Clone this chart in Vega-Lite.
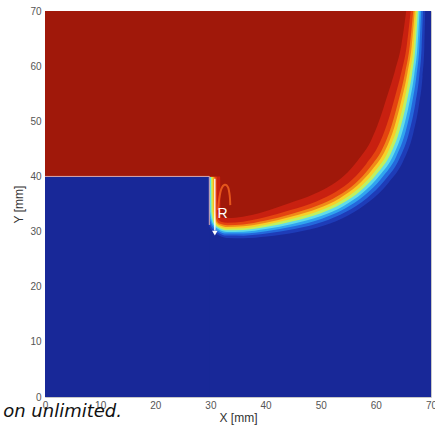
{
  "$schema": "https://vega.github.io/schema/vega-lite/v6.json",
  "width": 386,
  "height": 386,
  "autosize": {"type": "none"},
  "padding": {"left": 45, "top": 11, "right": 4, "bottom": 28},
  "background": "white",
  "config": {"view": {"stroke": "#c8c8c8", "strokeWidth": 1}},
  "datasets": {
    "ct": [
      {"c":1,"x":0,"y":40},{"c":1,"x":29.05,"y":40},{"c":1,"x":29.15,"y":33.5},{"c":1,"x":29.94,"y":30.64},{"c":1,"x":31.19,"y":29.5},{"c":1,"x":32.94,"y":28.85},{"c":1,"x":36.07,"y":28.8},{"c":1,"x":40.23,"y":29.12},{"c":1,"x":45.36,"y":29.84},{"c":1,"x":50.6,"y":31.1},{"c":1,"x":54.95,"y":32.93},{"c":1,"x":58.82,"y":35.44},{"c":1,"x":62.23,"y":38.78},{"c":1,"x":64.96,"y":42.78},{"c":1,"x":66.75,"y":47.69},{"c":1,"x":67.82,"y":52.96},{"c":1,"x":68.47,"y":58.16},{"c":1,"x":68.79,"y":63.33},{"c":1,"x":68.95,"y":70},
      {"c":2,"x":0,"y":40},{"c":2,"x":29.37,"y":40},{"c":2,"x":29.47,"y":33.5},{"c":2,"x":30.17,"y":30.87},{"c":2,"x":31.3,"y":29.85},{"c":2,"x":32.96,"y":29.27},{"c":2,"x":36.04,"y":29.26},{"c":2,"x":40.15,"y":29.63},{"c":2,"x":45.23,"y":30.45},{"c":2,"x":50.39,"y":31.77},{"c":2,"x":54.61,"y":33.59},{"c":2,"x":58.36,"y":36.06},{"c":2,"x":61.62,"y":39.31},{"c":2,"x":64.27,"y":43.21},{"c":2,"x":66.03,"y":47.97},{"c":2,"x":67.15,"y":53.15},{"c":2,"x":67.88,"y":58.28},{"c":2,"x":68.3,"y":63.39},{"c":2,"x":68.55,"y":70},
      {"c":3,"x":0,"y":40},{"c":3,"x":29.64,"y":40},{"c":3,"x":29.74,"y":33.5},{"c":3,"x":30.37,"y":31.07},{"c":3,"x":31.39,"y":30.15},{"c":3,"x":32.98,"y":29.63},{"c":3,"x":36.02,"y":29.65},{"c":3,"x":40.08,"y":30.08},{"c":3,"x":45.13,"y":30.98},{"c":3,"x":50.21,"y":32.34},{"c":3,"x":54.33,"y":34.15},{"c":3,"x":57.96,"y":36.58},{"c":3,"x":61.1,"y":39.77},{"c":3,"x":63.68,"y":43.57},{"c":3,"x":65.42,"y":48.22},{"c":3,"x":66.57,"y":53.31},{"c":3,"x":67.38,"y":58.38},{"c":3,"x":67.89,"y":63.44},{"c":3,"x":68.2,"y":70},
      {"c":4,"x":0,"y":40},{"c":4,"x":29.86,"y":40},{"c":4,"x":29.96,"y":33.5},{"c":4,"x":30.53,"y":31.23},{"c":4,"x":31.47,"y":30.4},{"c":4,"x":32.99,"y":29.93},{"c":4,"x":36.01,"y":29.97},{"c":4,"x":40.02,"y":30.45},{"c":4,"x":45.04,"y":31.42},{"c":4,"x":50.06,"y":32.81},{"c":4,"x":54.09,"y":34.61},{"c":4,"x":57.63,"y":37.02},{"c":4,"x":60.67,"y":40.15},{"c":4,"x":63.2,"y":43.88},{"c":4,"x":64.9,"y":48.42},{"c":4,"x":66.09,"y":53.45},{"c":4,"x":66.97,"y":58.47},{"c":4,"x":67.54,"y":63.48},{"c":4,"x":67.92,"y":70},
      {"c":5,"x":0,"y":40},{"c":5,"x":30.09,"y":40},{"c":5,"x":30.19,"y":33.5},{"c":5,"x":30.7,"y":31.4},{"c":5,"x":31.55,"y":30.65},{"c":5,"x":33.01,"y":30.23},{"c":5,"x":35.99,"y":30.3},{"c":5,"x":39.97,"y":30.82},{"c":5,"x":44.95,"y":31.87},{"c":5,"x":49.91,"y":33.29},{"c":5,"x":53.86,"y":35.08},{"c":5,"x":57.3,"y":37.46},{"c":5,"x":60.24,"y":40.53},{"c":5,"x":62.71,"y":44.18},{"c":5,"x":64.39,"y":48.62},{"c":5,"x":65.61,"y":53.58},{"c":5,"x":66.55,"y":58.55},{"c":5,"x":67.19,"y":63.53},{"c":5,"x":67.63,"y":70},
      {"c":6,"x":0,"y":40},{"c":6,"x":30.31,"y":40},{"c":6,"x":30.41,"y":33.5},{"c":6,"x":30.87,"y":31.57},{"c":6,"x":31.63,"y":30.9},{"c":6,"x":33.02,"y":30.53},{"c":6,"x":35.97,"y":30.62},{"c":6,"x":39.91,"y":31.19},{"c":6,"x":44.86,"y":32.31},{"c":6,"x":49.76,"y":33.76},{"c":6,"x":53.62,"y":35.55},{"c":6,"x":56.97,"y":37.9},{"c":6,"x":59.81,"y":40.91},{"c":6,"x":62.22,"y":44.49},{"c":6,"x":63.88,"y":48.83},{"c":6,"x":65.13,"y":53.72},{"c":6,"x":66.13,"y":58.64},{"c":6,"x":66.85,"y":63.57},{"c":6,"x":67.34,"y":70},
      {"c":7,"x":0,"y":40},{"c":7,"x":30.54,"y":40},{"c":7,"x":30.64,"y":33.5},{"c":7,"x":31.03,"y":31.73},{"c":7,"x":31.71,"y":31.15},{"c":7,"x":33.04,"y":30.83},{"c":7,"x":35.96,"y":30.95},{"c":7,"x":39.85,"y":31.57},{"c":7,"x":44.77,"y":32.75},{"c":7,"x":49.61,"y":34.24},{"c":7,"x":53.39,"y":36.02},{"c":7,"x":56.64,"y":38.34},{"c":7,"x":59.38,"y":41.29},{"c":7,"x":61.73,"y":44.79},{"c":7,"x":63.37,"y":49.03},{"c":7,"x":64.65,"y":53.85},{"c":7,"x":65.72,"y":58.72},{"c":7,"x":66.5,"y":63.61},{"c":7,"x":67.05,"y":70},
      {"c":8,"x":0,"y":40},{"c":8,"x":30.76,"y":40},{"c":8,"x":30.86,"y":33.5},{"c":8,"x":31.2,"y":31.9},{"c":8,"x":31.78,"y":31.4},{"c":8,"x":33.05,"y":31.13},{"c":8,"x":35.94,"y":31.27},{"c":8,"x":39.8,"y":31.94},{"c":8,"x":44.68,"y":33.19},{"c":8,"x":49.46,"y":34.71},{"c":8,"x":53.15,"y":36.48},{"c":8,"x":56.31,"y":38.78},{"c":8,"x":58.95,"y":41.67},{"c":8,"x":61.24,"y":45.1},{"c":8,"x":62.86,"y":49.23},{"c":8,"x":64.17,"y":53.99},{"c":8,"x":65.3,"y":58.81},{"c":8,"x":66.15,"y":63.65},{"c":8,"x":66.77,"y":70},
      {"c":9,"x":0,"y":40},{"c":9,"x":31.12,"y":40},{"c":9,"x":31.22,"y":33.5},{"c":9,"x":31.47,"y":32.17},{"c":9,"x":31.91,"y":31.8},{"c":9,"x":33.08,"y":31.61},{"c":9,"x":35.92,"y":31.79},{"c":9,"x":39.71,"y":32.53},{"c":9,"x":44.53,"y":33.89},{"c":9,"x":49.22,"y":35.47},{"c":9,"x":52.77,"y":37.23},{"c":9,"x":55.78,"y":39.49},{"c":9,"x":58.26,"y":42.27},{"c":9,"x":60.46,"y":45.59},{"c":9,"x":62.04,"y":49.56},{"c":9,"x":63.4,"y":54.2},{"c":9,"x":64.63,"y":58.94},{"c":9,"x":65.6,"y":63.72},{"c":9,"x":66.31,"y":70},
      {"c":10,"x":0,"y":40},{"c":10,"x":31.75,"y":40},{"c":10,"x":31.85,"y":33.5},{"c":10,"x":31.93,"y":32.63},{"c":10,"x":32.13,"y":32.5},{"c":10,"x":33.12,"y":32.45},{"c":10,"x":35.87,"y":32.7},{"c":10,"x":39.55,"y":33.57},{"c":10,"x":44.28,"y":35.13},{"c":10,"x":48.8,"y":36.8},{"c":10,"x":52.11,"y":38.54},{"c":10,"x":54.86,"y":40.72},{"c":10,"x":57.05,"y":43.34},{"c":10,"x":59.09,"y":46.44},{"c":10,"x":60.61,"y":50.13},{"c":10,"x":62.06,"y":54.58},{"c":10,"x":63.47,"y":59.18},{"c":10,"x":64.63,"y":63.84},{"c":10,"x":65.5,"y":70}
    ],
    "arc": [
      {"i":1,"x":31.4,"y":33.9},{"i":2,"x":31.6,"y":36.0},{"i":3,"x":32.0,"y":37.8},{"i":4,"x":32.6,"y":38.5},{"i":5,"x":33.2,"y":38.0},{"i":6,"x":33.5,"y":36.5},{"i":7,"x":33.6,"y":34.8}
    ]
  },
  "layer": [
    {
      "data": {"values": [{"x": 0, "x2": 70, "y": 0, "y2": 70}]},
      "mark": {"type": "rect", "color": "#182898"},
      "encoding": {
        "x": {"field": "x", "type": "quantitative", "scale": {"domain": [0, 70], "nice": false, "zero": false},
          "axis": {"title": "X [mm]", "values": [0,10,20,30,40,50,60,70], "ticks": false, "domain": false, "grid": false, "labelFlush": false, "labelFont": "Liberation Sans", "labelFontSize": 10, "labelColor": "#555555", "labelPadding": 3, "titleFont": "Liberation Sans", "titleFontSize": 12, "titleFontWeight": "normal", "titleColor": "#333333", "titlePadding": 2}},
        "x2": {"field": "x2"},
        "y": {"field": "y", "type": "quantitative", "scale": {"domain": [0, 70], "nice": false, "zero": false},
          "axis": {"title": "Y [mm]", "values": [0,10,20,30,40,50,60,70], "ticks": false, "domain": false, "grid": false, "labelFlush": false, "labelFont": "Liberation Sans", "labelFontSize": 10, "labelColor": "#555555", "labelPadding": 4, "titleFont": "Liberation Sans", "titleFontSize": 12, "titleFontWeight": "normal", "titleColor": "#333333", "titlePadding": 4}},
        "y2": {"field": "y2"}
      }
    },
    {
      "data": {"name": "ct"},
      "encoding": {
        "x": {"field": "x", "type": "quantitative"},
        "y": {"field": "y", "type": "quantitative", "stack": null},
        "y2": {"datum": 70}
      },
      "layer": [
        {"transform": [{"filter": "datum.c == 1"}], "mark": {"type": "area", "color": "#1e3cb8", "interpolate": "monotone"}},
        {"transform": [{"filter": "datum.c == 2"}], "mark": {"type": "area", "color": "#2468dc", "interpolate": "monotone"}},
        {"transform": [{"filter": "datum.c == 3"}], "mark": {"type": "area", "color": "#30a4f0", "interpolate": "monotone"}},
        {"transform": [{"filter": "datum.c == 4"}], "mark": {"type": "area", "color": "#60dce8", "interpolate": "monotone"}},
        {"transform": [{"filter": "datum.c == 5"}], "mark": {"type": "area", "color": "#c0f060", "interpolate": "monotone"}},
        {"transform": [{"filter": "datum.c == 6"}], "mark": {"type": "area", "color": "#f8d028", "interpolate": "monotone"}},
        {"transform": [{"filter": "datum.c == 7"}], "mark": {"type": "area", "color": "#f08a18", "interpolate": "monotone"}},
        {"transform": [{"filter": "datum.c == 8"}], "mark": {"type": "area", "color": "#e44410", "interpolate": "monotone"}},
        {"transform": [{"filter": "datum.c == 9"}], "mark": {"type": "area", "color": "#c82010", "interpolate": "monotone"}},
        {"transform": [{"filter": "datum.c == 10"}], "mark": {"type": "area", "color": "#a0180a", "interpolate": "monotone"}}
      ]
    },
    {
      "data": {"values": [{"x": 0, "x2": 29.8, "y": 0, "y2": 40}]},
      "mark": {"type": "rect", "color": "#182898"},
      "encoding": {
        "x": {"field": "x", "type": "quantitative"},
        "x2": {"field": "x2"},
        "y": {"field": "y", "type": "quantitative"},
        "y2": {"field": "y2"}
      }
    },
    {
      "data": {"values": [{"x": 0, "x2": 29.8, "y": 40, "y2": 40}, {"x": 29.8, "x2": 29.8, "y": 40, "y2": 31.2}]},
      "mark": {"type": "rule", "color": "#d8a8b0", "strokeWidth": 1},
      "encoding": {
        "x": {"field": "x", "type": "quantitative"},
        "x2": {"field": "x2"},
        "y": {"field": "y", "type": "quantitative"},
        "y2": {"field": "y2"}
      }
    },
    {
      "data": {"name": "arc"},
      "mark": {"type": "line", "color": "#f06020", "strokeWidth": 2, "opacity": 0.85, "interpolate": "cardinal"},
      "encoding": {
        "x": {"field": "x", "type": "quantitative"},
        "y": {"field": "y", "type": "quantitative"},
        "order": {"field": "i", "type": "quantitative"}
      }
    },
    {
      "data": {"values": [{"x": 30.8, "y": 39.6, "y2": 30.2}]},
      "mark": {"type": "rule", "color": "white", "strokeWidth": 1.3},
      "encoding": {
        "x": {"field": "x", "type": "quantitative"},
        "y": {"field": "y", "type": "quantitative"},
        "y2": {"field": "y2"}
      }
    },
    {
      "data": {"values": [{"x": 30.8, "y": 29.7}]},
      "mark": {"type": "point", "shape": "triangle-down", "filled": true, "color": "white", "opacity": 1, "size": 30},
      "encoding": {
        "x": {"field": "x", "type": "quantitative"},
        "y": {"field": "y", "type": "quantitative"}
      }
    },
    {
      "data": {"values": [{"x": 32.2, "y": 33.2, "t": "R"}]},
      "mark": {"type": "text", "color": "white", "font": "Liberation Sans", "fontSize": 14, "align": "center", "baseline": "middle"},
      "encoding": {
        "x": {"field": "x", "type": "quantitative"},
        "y": {"field": "y", "type": "quantitative"},
        "text": {"field": "t"}
      }
    },
    {
      "data": {"values": [{"x": 13.96, "y": -3.63, "t": "on unlimited."}]},
      "mark": {"type": "text", "color": "#111111", "font": "DejaVu Sans", "fontStyle": "italic", "fontSize": 18, "align": "right", "baseline": "alphabetic", "clip": false},
      "encoding": {
        "x": {"field": "x", "type": "quantitative"},
        "y": {"field": "y", "type": "quantitative"},
        "text": {"field": "t"}
      }
    }
  ]
}
